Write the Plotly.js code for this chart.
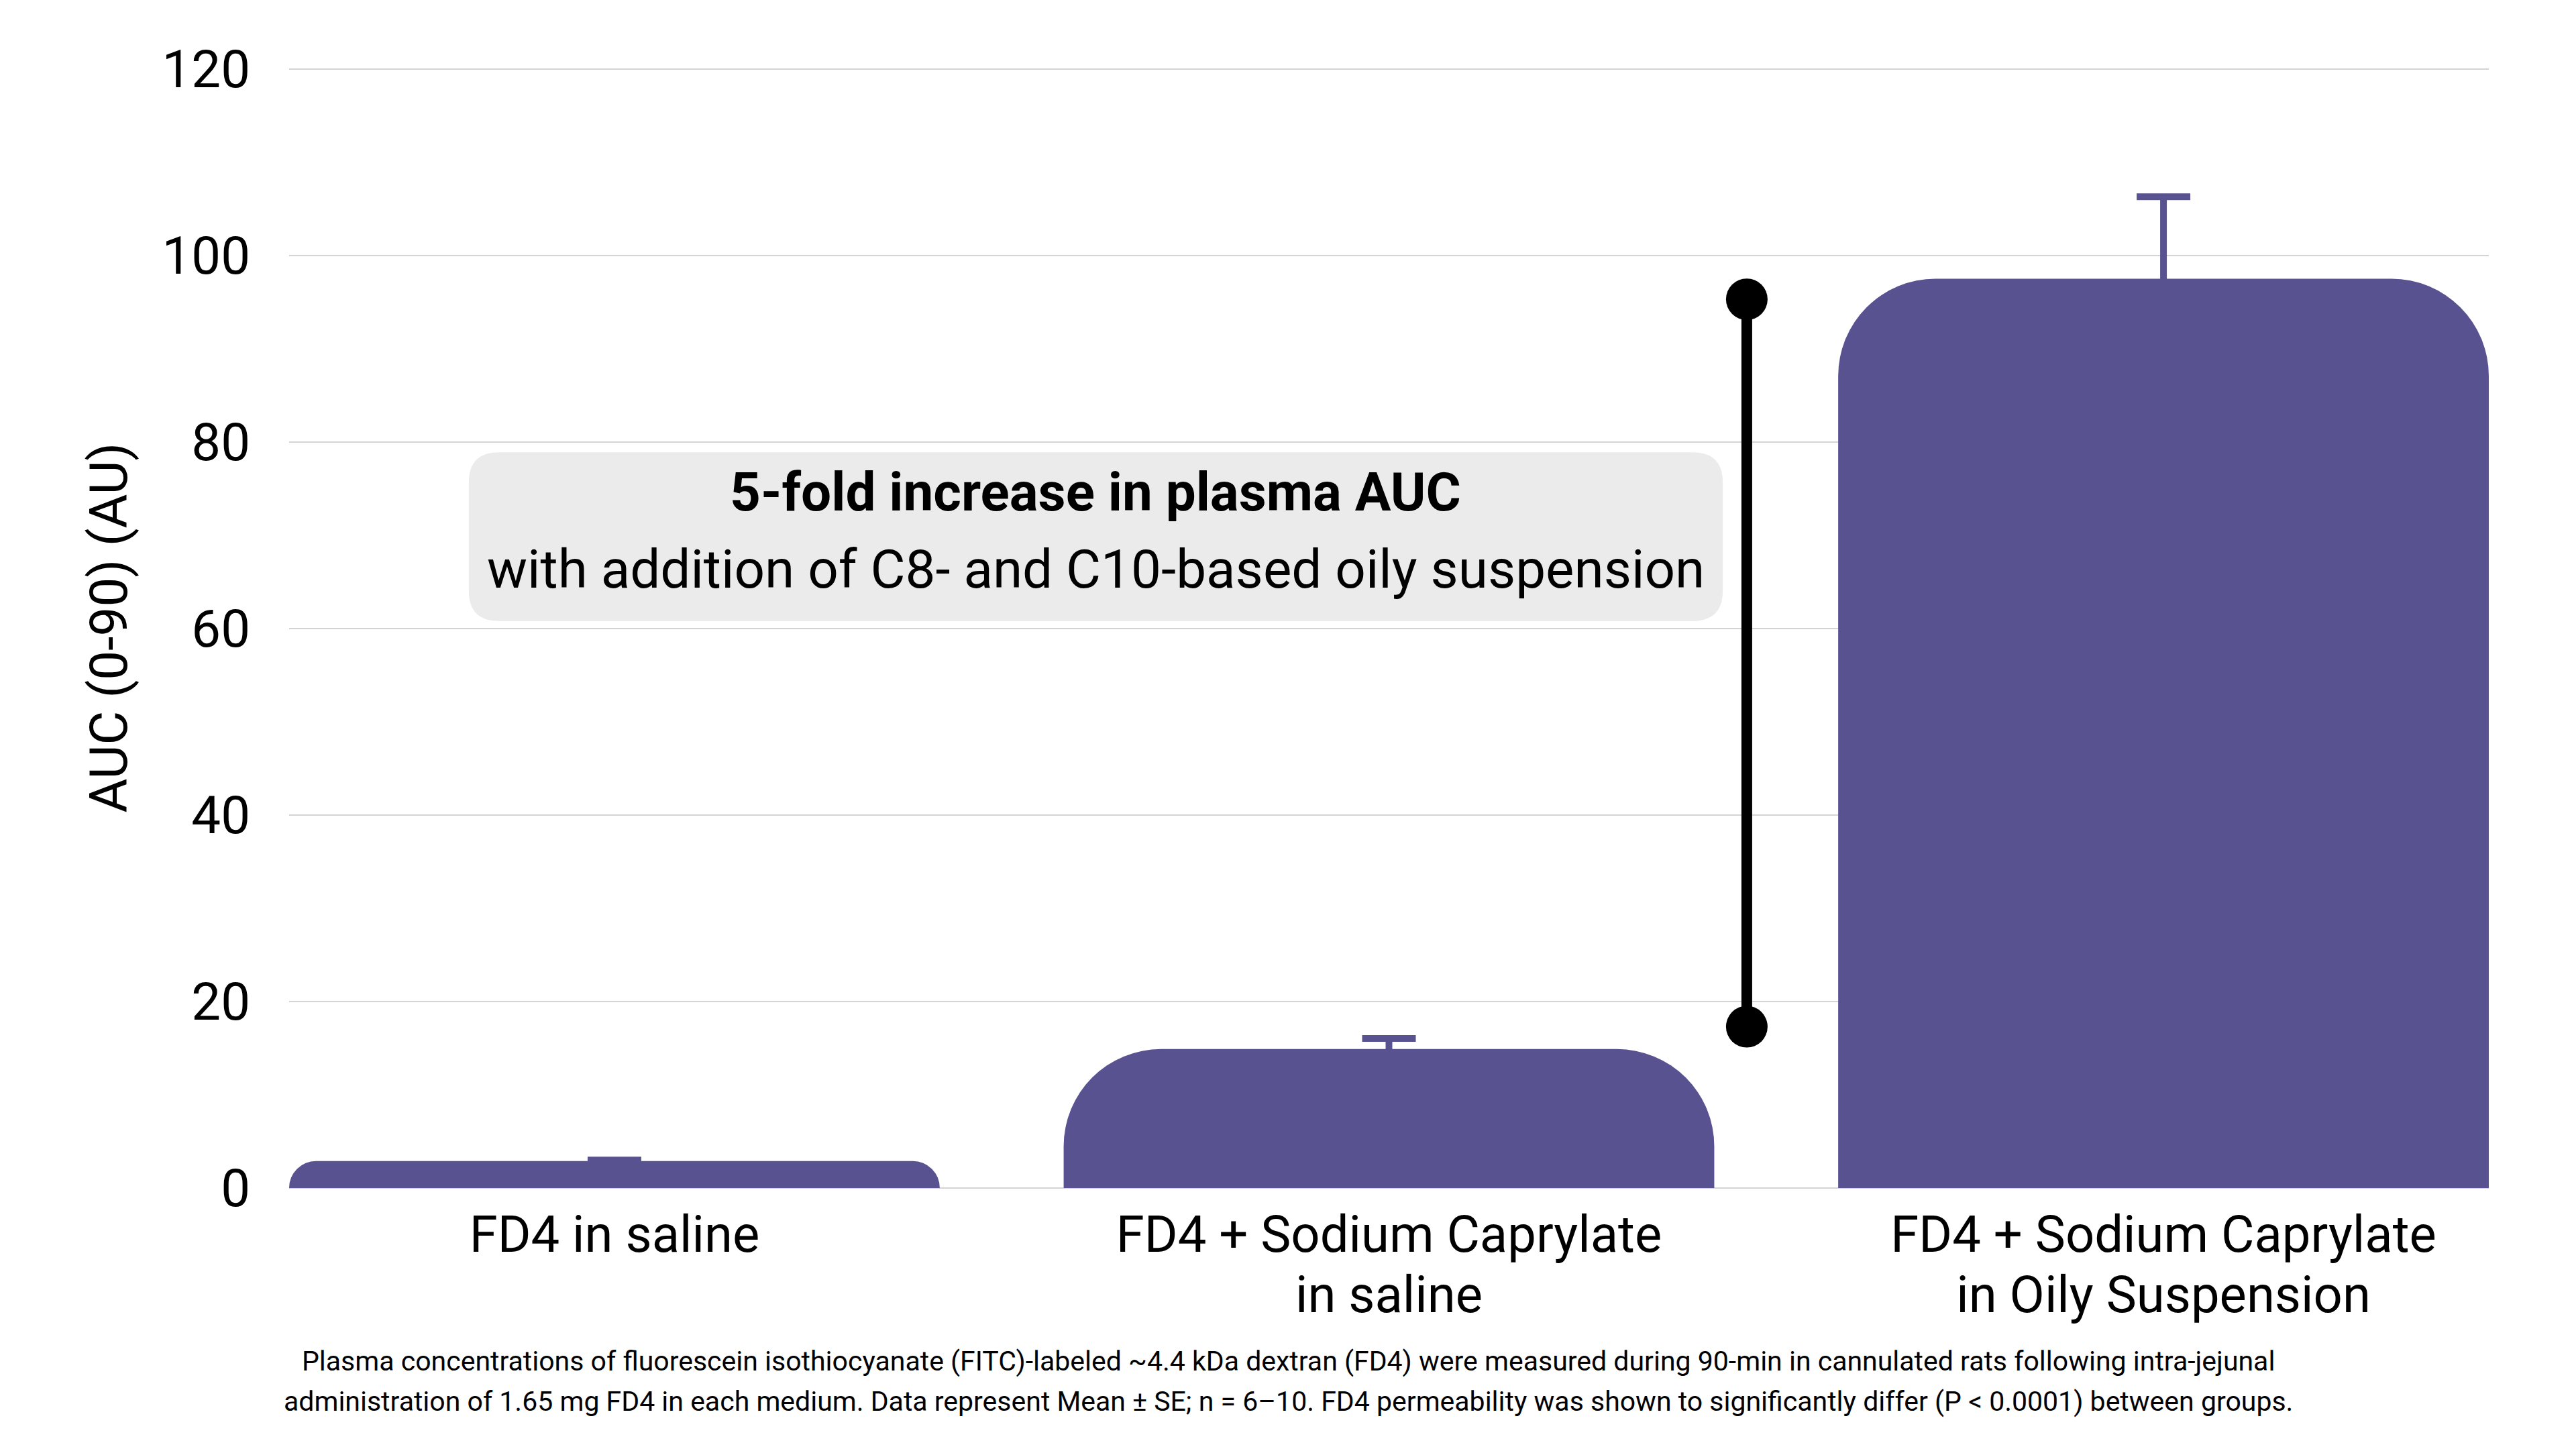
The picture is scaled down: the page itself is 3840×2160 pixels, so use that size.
<!DOCTYPE html>
<html>
<head>
<meta charset="utf-8">
<script src="https://cdn.plot.ly/plotly-3.0.1.min.js"></script>
<style>
  html, body { margin: 0; padding: 0; background: #ffffff; }
  #chart { width: 3840px; height: 2160px; }
</style>
</head>
<body>
<div id="chart"></div>
<script>
// ---------------- data ----------------
const labelLine1 = ["FD4 in saline", "FD4 + Sodium Caprylate", "FD4 + Sodium Caprylate"];
const labelLine2 = ["", "in saline", "in Oily Suspension"];
const aucMean = [2.9, 14.9, 97.5];
const aucSE = [0.1, 1.15, 8.8];
const yTickVals = [0, 20, 40, 60, 80, 100, 120];
const bracketX = [1.462, 1.462];
const bracketY = [17.3, 95.3];
const calloutTitle = "5-fold increase in plasma AUC";
const calloutText = "with addition of C8- and C10-based oily suspension";
const yTitle = "AUC (0-90) (AU)";
const footnoteLines = [
  "Plasma concentrations of fluorescein isothiocyanate (FITC)-labeled ~4.4 kDa dextran (FD4) were measured during 90-min in cannulated rats following intra-jejunal",
  "administration of 1.65 mg FD4 in each medium. Data represent Mean ± SE; n = 6–10. FD4 permeability was shown to significantly differ (P &lt; 0.0001) between groups."
];

// ---------------- style ----------------
const W = 3840, H = 2160;
const M = { l: 431, r: 130, t: 100, b: 389 };
const xRange = [-0.42, 2.42];
const yRange = [0, 120.2];
const barColor = "#585291";
const gridColor = "#d4d4d4";
const FONT = "Roboto, 'DejaVu Sans', sans-serif";

const plotW = W - M.l - M.r, plotH = H - M.t - M.b;
const pxPerX = plotW / (xRange[1] - xRange[0]);
const pxPerY = plotH / (yRange[1] - yRange[0]);

const xIdx = labelLine1.map((_, i) => i);

// two-line labels: line spacing comes from the base font size,
// glyph size from the inner span
function sized(s, px) { return `<span style="font-size:${px}px">${s}</span>`; }
const xTickText = xIdx.map(i =>
  labelLine2[i] ? sized(labelLine1[i], 76) + "<br>" + sized(labelLine2[i], 76) : sized(labelLine1[i], 76)
);

// callout box (data coords) with rounded corners
const box = { x0: -0.188, x1: 1.431, y0: 60.8, y1: 78.9, r: 45 };
function roundedPath(b) {
  const rx = b.r / pxPerX, ry = b.r / pxPerY;
  return `M ${b.x0 + rx},${b.y1} L ${b.x1 - rx},${b.y1} Q ${b.x1},${b.y1} ${b.x1},${b.y1 - ry} ` +
         `L ${b.x1},${b.y0 + ry} Q ${b.x1},${b.y0} ${b.x1 - rx},${b.y0} ` +
         `L ${b.x0 + rx},${b.y0} Q ${b.x0},${b.y0} ${b.x0},${b.y0 + ry} ` +
         `L ${b.x0},${b.y1 - ry} Q ${b.x0},${b.y1} ${b.x0 + rx},${b.y1} Z`;
}

const traces = [
  {
    type: "bar",
    x: xIdx,
    y: aucMean,
    width: 0.84,
    marker: { color: barColor, cornerradius: 145 },
    error_y: { type: "data", array: aucSE, visible: true, color: barColor, thickness: 10, width: 40 },
    hoverinfo: "skip",
    showlegend: false
  },
  {
    type: "scatter",
    mode: "lines+markers",
    x: bracketX,
    y: bracketY,
    line: { color: "#000000", width: 16 },
    marker: { color: "#000000", size: 62 },
    hoverinfo: "skip",
    showlegend: false
  }
];

const annotations = [];
const boxCx = (box.x0 + box.x1) / 2;
annotations.push({
  x: boxCx, xref: "x", y: 74.6, yref: "y", xanchor: "center", yanchor: "middle",
  text: "<b>" + calloutTitle + "</b>", showarrow: false,
  font: { family: FONT, size: 80, color: "#000" }
});
annotations.push({
  x: boxCx, xref: "x", y: 66.3, yref: "y", xanchor: "center", yanchor: "middle",
  text: calloutText, showarrow: false,
  font: { family: FONT, size: 80, color: "#000" }
});
// footnote, centred on the page, two lines centred at page y = 2059
annotations.push({
  x: (W / 2 - M.l) / plotW, xref: "paper",
  y: -(2059 - (H - M.b)) / plotH, yref: "paper",
  xanchor: "center", yanchor: "middle", align: "center",
  text: footnoteLines.map(s => sized(s, 41)).join("<br>"), showarrow: false,
  font: { family: FONT, size: 46, color: "#000" }
});

const layout = {
  width: W, height: H,
  margin: { l: M.l, r: M.r, t: M.t, b: M.b, pad: 0 },
  paper_bgcolor: "#ffffff",
  plot_bgcolor: "#ffffff",
  font: { family: FONT, color: "#000" },
  xaxis: {
    type: "linear", range: xRange, showgrid: false, zeroline: false,
    showline: false, ticks: "", fixedrange: true,
    tickvals: xIdx, ticktext: xTickText,
    tickfont: { family: FONT, size: 69, color: "#000" },
    ticklabelstandoff: 25
  },
  yaxis: {
    range: yRange, tickvals: yTickVals, ticktext: yTickVals.map(String),
    showgrid: true, gridcolor: gridColor, gridwidth: 2,
    zeroline: true, zerolinecolor: gridColor, zerolinewidth: 2,
    showline: false, ticks: "",
    ticklabelstandoff: 57,
    tickfont: { family: FONT, size: 78, color: "#000" },
    title: { text: yTitle, font: { family: FONT, size: 78, color: "#000" }, standoff: 26 },
    fixedrange: true
  },
  shapes: [{
    type: "path", xref: "x", yref: "y", path: roundedPath(box),
    fillcolor: "#ebebeb", line: { width: 0 }, layer: "below"
  }],
  annotations: annotations
};

Plotly.newPlot("chart", traces, layout, { staticPlot: true, displayModeBar: false });
</script>
</body>
</html>
